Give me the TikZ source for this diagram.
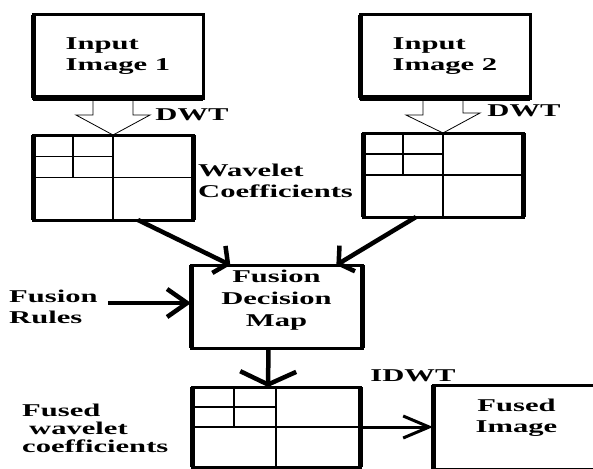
\documentclass[tikz,border=0pt]{standalone}
\usepackage{fontspec}
\setmainfont{Liberation Serif}[FakeStretch=1.7]
\usetikzlibrary{calc, arrows.meta}

\begin{document}
\begin{tikzpicture}[x=1pt, y=-1pt,
    lbl/.style={font=\fontsize{18}{21}\selectfont\bfseries, inner sep=0pt},
    box/.style={draw, line width=3pt, inner sep=0pt, outer sep=0pt},
    grid/.style={line width=1.2pt},
    hollow/.style={draw, line width=0.8pt, line join=miter},
    flow/.style={line width=4.5pt, -{Straight Barb[length=10pt, width=30pt]}}]
  \clip (0,0) rectangle (593,468);
  % input images
  \node[box, lbl, align=left, minimum width=170pt, minimum height=83pt] (in1) at (118,56.5) {Input\\Image 1};
  \node[box, lbl, align=left, minimum width=170pt, minimum height=83pt] (in2) at (445,56.5) {Input\\Image 2};
  % wavelet coefficients
  \node[box, minimum width=160pt, minimum height=85pt] (coef1) at (113,177.5) {};
  \node[box, minimum width=160pt, minimum height=84pt] (coef2) at (443,175) {};
  \node[box, minimum width=171pt, minimum height=83pt,
        label={[lbl, align=center, yshift=6pt, font=\fontsize{18}{22}\selectfont\bfseries]center:Fusion\\Decision\\Map}] (fdm) at (276.5,306.5) {};
  \node[box, minimum width=168pt, minimum height=80pt] (fcoef) at (276,427) {};
  \node[box, minimum width=167pt, minimum height=84pt,
        label={[lbl, align=center, yshift=9pt]center:Fused\\Image}] (fimg) at (516.5,427) {};
  % heavy sides
  \foreach \n in {in1, in2, coef1, coef2, fdm, fcoef, fimg}
    \draw[line width=5pt] (\n.north west) -- (\n.south west);
  \foreach \n in {coef1, coef2, fdm, fcoef}
    \draw[line width=5pt] (\n.north east) -- (\n.south east);
  \foreach \n in {in1, in2}
    \draw[line width=5pt] (\n.south west) -- (\n.south east);
  % subband grid
  \foreach \g in {coef1, coef2, fcoef} {
    \draw[grid] (\g.north) -- (\g.south);
    \draw[grid] (\g.west) -- (\g.east);
    \draw[grid] ($(\g.north west)!0.5!(\g.north)$) -- ($(\g.west)!0.5!(\g.center)$);
    \draw[grid] ($(\g.north west)!0.5!(\g.west)$) -- ($(\g.north)!0.5!(\g.center)$);
  }
  % DWT arrows
  \draw[hollow] ($(in1.south -| coef1.north)+(-20,0)$) -- ++(0,17) -- ++(-17,0) -- (coef1.north)
    -- ++(37,-20) -- ++(-17,0) -- ++(0,-17);
  \draw[hollow] ($(in2.south -| coef2.north)+(-20,0)$) -- ++(0,17) -- ++(-17,0) -- (coef2.north)
    -- ++(37,-20) -- ++(-17,0) -- ++(0,-17);
  \node[lbl] (dwt1) at (192,115) {DWT};
  \node[lbl] (dwt2) at (524,111) {DWT};
  \node[lbl, anchor=west, align=left] (wlab) at (198,181) {Wavelet\\Coefficients};
  % into the decision map
  \draw[flow] ($(coef1.south)+(25,0)$) -- ($(fdm.north west)!0.23!(fdm.north east)$);
  \draw[flow] ($(coef2.south)+(-27,0)$) -- ($(fdm.north west)!0.85!(fdm.north east)$);
  \node[lbl, anchor=west, align=left] (rules) at (9,307) {Fusion\\Rules};
  \coordinate (r0) at ($(rules.east)+(10,-4)$);
  \draw[flow, -{Straight Barb[length=20pt, width=28pt]}] (r0) -- (r0 -| fdm.west);
  % fused output
  \draw[flow, -{Straight Barb[length=13pt, width=56pt]}] ($(fdm.south)+(-8,0)$) -- ($(fcoef.north)+(-8,0)$);
  \node[lbl, anchor=west, align=left, font=\fontsize{18}{18}\selectfont\bfseries] (fclab) at (22,428)
    {Fused\\\hspace*{7pt}wavelet\\coefficients};
  \node[lbl] (idwt) at (413,376) {IDWT};
  \draw[flow, line width=3pt, -{Straight Barb[length=26pt, width=22pt]}] (fcoef.east) -- (fcoef.east -| fimg.west);
\end{tikzpicture}
\end{document}
